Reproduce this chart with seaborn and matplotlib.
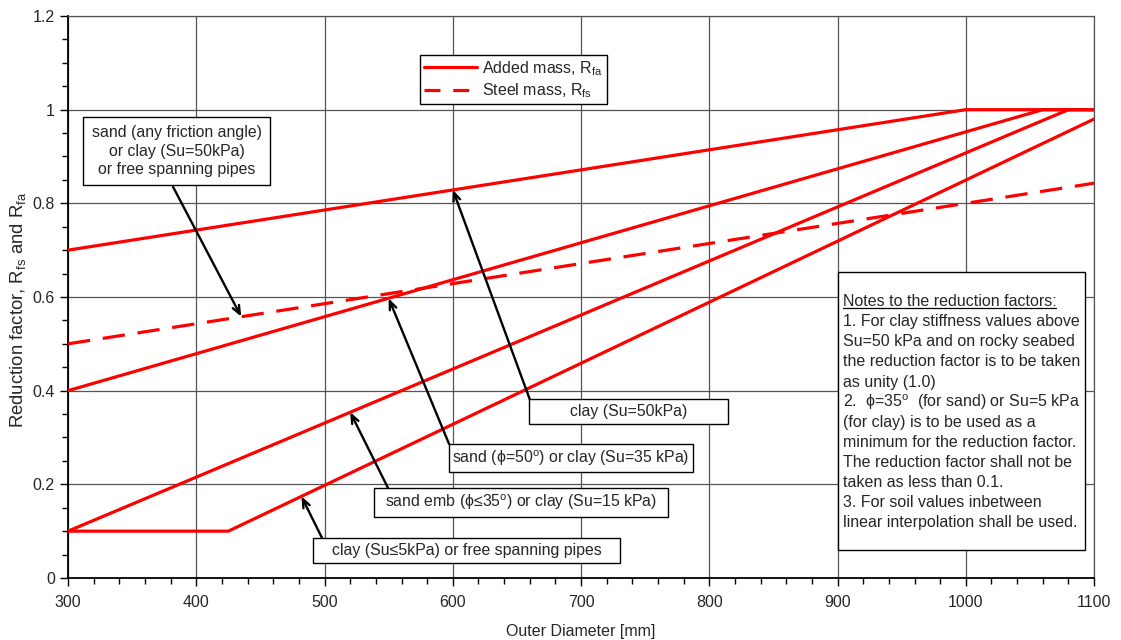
import matplotlib
matplotlib.use("Agg")
import matplotlib.pyplot as plt
import seaborn as sns
from matplotlib.patches import Rectangle
from matplotlib.lines import Line2D
from matplotlib.ticker import MultipleLocator

# Data
diam_any = [300, 1000, 1100]
rfa_any = [0.7, 1.0, 1.0]
diam_su35 = [300, 1060, 1100]
rfa_su35 = [0.4, 1.0, 1.0]
diam_su15 = [300, 1080, 1100]
rfa_su15 = [0.1, 1.0, 1.0]
diam_su5 = [300, 425, 1100]
rfa_su5 = [0.1, 0.1, 0.98]
diam_steel = [300, 1000, 1100]
rfs_steel = [0.5, 0.8, 0.843]

added_series = [(diam_any, rfa_any), (diam_su35, rfa_su35),
                (diam_su15, rfa_su15), (diam_su5, rfa_su5)]

sns.set_style("white")
plt.rcParams['font.family'] = ['Liberation Sans', 'DejaVu Sans']
plt.rcParams['mathtext.fontset'] = 'custom'
plt.rcParams['mathtext.rm'] = 'Liberation Sans'
plt.rcParams['mathtext.it'] = 'Liberation Sans:italic'

fig = plt.figure(figsize=(11.21, 6.4), dpi=100)
ax = fig.add_axes([0.0607, 0.0969, 0.9153, 0.8781])

red = '#ff0000'
for xs, ys in added_series:
    sns.lineplot(x=xs, y=ys, ax=ax, color=red, lw=2.3, estimator=None, zorder=3)
sns.lineplot(x=diam_steel, y=rfs_steel, ax=ax, color=red, lw=2.3, estimator=None,
             zorder=3, linestyle=(0, (7, 4)))

ax.set_xlim(300, 1100)
ax.set_ylim(0, 1.2)
ax.xaxis.set_major_locator(MultipleLocator(100))
ax.xaxis.set_minor_locator(MultipleLocator(20))
ax.yaxis.set_minor_locator(MultipleLocator(0.05))
ax.set_yticks([0, 0.2, 0.4, 0.6, 0.8, 1.0, 1.2])
ax.set_yticklabels(['0', '0.2', '0.4', '0.6', '0.8', '1', '1.2'])
ax.tick_params(which='major', direction='out', length=6, width=1, color='black',
               labelsize=11.5, bottom=True, left=True)
ax.tick_params(axis='x', which='major', pad=6.5)
ax.tick_params(which='minor', direction='out', length=4.5, width=1, color='black',
               bottom=True, left=True)
ax.grid(True, which='major', color='#555555', lw=0.9)
for s in ['left', 'bottom']:
    ax.spines[s].set_color('black')
    ax.spines[s].set_linewidth(1.3)
for s in ['top', 'right']:
    ax.spines[s].set_color('#555555')
    ax.spines[s].set_linewidth(0.9)

ax.set_xlabel('Outer Diameter [mm]', fontsize=11.5, labelpad=10)
ax.set_ylabel(r'Reduction factor, R$_{\mathrm{fs}}$ and R$_{\mathrm{fa}}$', fontsize=13.3)
ax.yaxis.set_label_coords(-0.039, 0.477)

# legend
handles = [Line2D([], [], color=red, lw=2.3),
           Line2D([], [], color=red, lw=2.3, linestyle=(0, (5, 4)))]
leg = ax.legend(handles, [r'Added mass, R$_{\mathrm{fa}}$', r'Steel mass, R$_{\mathrm{fs}}$'],
                loc='upper left', bbox_to_anchor=(0.343, 0.9306), borderaxespad=0,
                fontsize=11.5, frameon=True, fancybox=False, framealpha=1,
                edgecolor='black', handlelength=3.3, borderpad=0.25,
                labelspacing=0.22, handletextpad=0.35)
leg.get_frame().set_linewidth(1.0)
leg.set_zorder(6)

# labelled boxes with arrows: (x0, x1, y0, y1), text, arrow start, arrow tip
labels = [
    ((311.7, 457.5, 0.839, 0.984),
     'sand (any friction angle)\nor clay (Su=50kPa)\nor free spanning pipes',
     (381.9, 0.835), (435, 0.558)),
    ((659.5, 814.6, 0.329, 0.382), 'clay (Su=50kPa)', (660.2, 0.380), (600, 0.829)),
    ((597.1, 787.3, 0.226, 0.286), 'sand (\u03d5=50$^{\\mathrm{o}}$) or clay (Su=35 kPa)',
     (597.1, 0.286), (550, 0.597)),
    ((538.6, 767.8, 0.130, 0.192), 'sand emb (\u03d5≤35$^{\\mathrm{o}}$) or clay (Su=15 kPa)',
     (549.5, 0.192), (520, 0.354)),
    ((491.0, 730.4, 0.032, 0.085), 'clay (Su≤5kPa) or free spanning pipes',
     (498.1, 0.085), (482, 0.174)),
]
for (x0, x1, y0, y1), txt, start, tip in labels:
    ax.add_patch(Rectangle((x0, y0), x1 - x0, y1 - y0, facecolor='white',
                           edgecolor='black', lw=1.0, zorder=5))
    ax.text((x0 + x1) / 2, (y0 + y1) / 2, txt, ha='center', va='center',
            fontsize=11.4, linespacing=1.3, zorder=6)
    ax.annotate('', xy=tip, xytext=start, zorder=4,
                arrowprops=dict(arrowstyle='->,head_length=0.6,head_width=0.25',
                                color='black', lw=1.7, shrinkA=0, shrinkB=0))

# notes box
ax.add_patch(Rectangle((900.4, 0.060), 1093.0 - 900.4, 0.653 - 0.060, facecolor='white',
                       edgecolor='black', lw=1.0, zorder=5))
notes = ['Notes to the reduction factors:',
         '1. For clay stiffness values above',
         'Su=50 kPa and on rocky seabed',
         'the reduction factor is to be taken',
         'as unity (1.0)',
         '2.  \u03d5=35$^{\\mathrm{o}}$  (for sand) or Su=5 kPa',
         '(for clay) is to be used as a',
         'minimum for the reduction factor.',
         'The reduction factor shall not be',
         'taken as less than 0.1.',
         '3. For soil values inbetween',
         'linear interpolation shall be used.']
note_texts = []
for i, line in enumerate(notes):
    note_texts.append(ax.text(904.0, 0.590 - i * 0.0429, line, ha='left', va='center',
                              fontsize=11.5, zorder=6))

# underline the heading of the notes
fig.canvas.draw()
bb = note_texts[0].get_window_extent().transformed(ax.transData.inverted())
ax.plot([bb.x0, bb.x1], [bb.y0 + 0.002, bb.y0 + 0.002], color='black', lw=0.9, zorder=6)

fig.savefig('out.png', dpi=100)
